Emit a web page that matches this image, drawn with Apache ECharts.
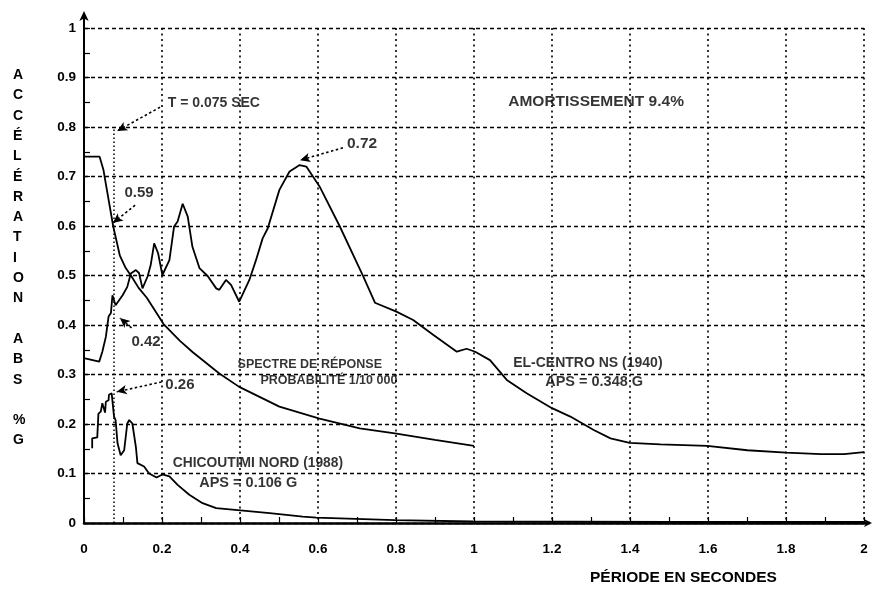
<!DOCTYPE html>
<html><head><meta charset="utf-8">
<script src="https://cdn.jsdelivr.net/npm/echarts@6/dist/echarts.min.js"></script>
<style>html,body{margin:0;padding:0;background:#fff}#c{width:878px;height:592px}</style>
</head><body><div id="c"></div><script>
// ---- data ----
const elCentroX = [0.0,0.039,0.047,0.056,0.063,0.069,0.073,0.081,0.099,0.111,0.12,0.133,0.141,0.15,0.163,0.171,0.18,0.19,0.201,0.219,0.231,0.24,0.253,0.266,0.278,0.296,0.317,0.339,0.347,0.364,0.377,0.398,0.424,0.441,0.458,0.471,0.501,0.527,0.553,0.57,0.604,0.656,0.716,0.746,0.801,0.844,0.896,0.956,0.981,1.003,1.041,1.084,1.135,1.2,1.247,1.307,1.35,1.399,1.478,1.598,1.701,1.8,1.89,1.949,2.0];
const elCentroY = [0.333,0.326,0.346,0.376,0.417,0.424,0.46,0.44,0.46,0.477,0.504,0.511,0.505,0.474,0.498,0.521,0.565,0.545,0.501,0.531,0.599,0.609,0.645,0.619,0.558,0.515,0.499,0.474,0.471,0.491,0.481,0.447,0.491,0.531,0.575,0.595,0.673,0.71,0.723,0.72,0.68,0.599,0.498,0.445,0.427,0.41,0.38,0.346,0.352,0.346,0.329,0.289,0.262,0.232,0.215,0.188,0.171,0.162,0.159,0.156,0.147,0.142,0.139,0.139,0.143];
const spectreX = [0.0,0.04,0.05,0.056,0.075,0.092,0.107,0.122,0.14,0.161,0.204,0.246,0.279,0.347,0.398,0.501,0.604,0.707,0.797,0.9,1.0];
const spectreY = [0.74,0.74,0.713,0.685,0.599,0.54,0.515,0.498,0.475,0.455,0.402,0.368,0.345,0.302,0.275,0.235,0.211,0.191,0.181,0.168,0.156];
const chicoutimiX = [0.021,0.021,0.034,0.037,0.043,0.047,0.054,0.056,0.063,0.064,0.071,0.077,0.081,0.086,0.094,0.103,0.111,0.116,0.124,0.133,0.137,0.154,0.167,0.186,0.201,0.219,0.24,0.27,0.304,0.339,0.394,0.476,0.561,0.596,0.797,0.998,1.5,2.0];
const chicoutimiY = [0.151,0.171,0.173,0.221,0.225,0.242,0.223,0.245,0.248,0.259,0.262,0.215,0.208,0.161,0.137,0.147,0.201,0.208,0.201,0.154,0.121,0.114,0.1,0.092,0.098,0.094,0.077,0.057,0.04,0.03,0.026,0.02,0.013,0.011,0.006,0.003,0.002,0.002];

const noteText = ['T = 0.075 SEC','AMORTISSEMENT 9.4%','0.72','0.59','0.42','0.26','SPECTRE DE RÉPONSE','PROBABILITÉ 1/10 000','EL-CENTRO NS (1940)','APS = 0.348 G','CHICOUTIMI NORD (1988)','APS = 0.106 G'];
const noteX = [0.333,1.313,0.713,0.141,0.159,0.246,0.579,0.628,1.292,1.308,0.446,0.421];
const noteY = [0.848,0.852,0.766,0.667,0.366,0.279,0.321,0.287,0.323,0.285,0.121,0.081];

// arrows: [fromX, fromY, toX, toY]
const arrows = [
  [0.195,0.840,0.085,0.792],
  [0.664,0.758,0.554,0.733],
  [0.131,0.642,0.074,0.606],
  [0.122,0.394,0.092,0.414],
  [0.199,0.285,0.084,0.265]
];
const periodT = 0.075, periodTop = 0.8;

const yLetters = 'A\nC\nC\nÉ\nL\nÉ\nR\nA\nT\nI\nO\nN\n\nA\nB\nS\n\n%\nG';
const xName = 'PÉRIODE EN SECONDES';

// ---- styles ----
const FONT = "'Liberation Sans', Arial, sans-serif";
const noteFontSize = [14, 15.5, 15.5, 15, 15, 15, 12.5, 12.5, 14, 14.5, 13.8, 14.5];

const zip = (a,b)=>a.map((v,i)=>[v,b[i]]);
const lineSeries = (name, xs, ys) => ({
  name, type:'line', data: zip(xs,ys), showSymbol:false, symbol:'none',
  lineStyle:{color:'#000', width:1.8}, animation:false, z:5
});

const chart = echarts.init(document.getElementById('c'), null, {renderer:'canvas'});
const option = {
  animation:false,
  backgroundColor:'#fff',
  grid:{left:84, right:14, top:28, bottom:69},
  xAxis:{
    type:'value', min:0, max:2, interval:0.2,
    axisLine:{show:true, onZero:false, lineStyle:{color:'#000', width:2.5}, symbol:['none','arrow'], symbolSize:[6,8], symbolOffset:[0,8]},
    axisTick:{show:true, inside:true, length:6, lineStyle:{color:'#000', width:1.2}},
    minorTick:{show:true, splitNumber:2, length:6, lineStyle:{color:'#000', width:1.2}},
    axisLabel:{color:'#000', fontFamily:FONT, fontWeight:'bold', fontSize:13.5, margin:19},
    splitLine:{show:true, lineStyle:{color:'#000', width:1.6, type:[2,3.5]}}
  },
  yAxis:{
    type:'value', min:0, max:1, interval:0.1,
    axisLine:{show:true, onZero:false, lineStyle:{color:'#000', width:2}, symbol:['none','arrow'], symbolSize:[7,10], symbolOffset:[0,17]},
    axisTick:{show:true, inside:true, length:6, lineStyle:{color:'#000', width:1.2}},
    minorTick:{show:true, splitNumber:2, length:6, lineStyle:{color:'#000', width:1.2}},
    axisLabel:{color:'#000', fontFamily:FONT, fontWeight:'bold', fontSize:13.5, margin:8},
    splitLine:{show:true, lineStyle:{color:'#000', width:1.4, type:[4,3]}}
  },
  series:[
    Object.assign(lineSeries('El-Centro', elCentroX, elCentroY), {
      markLine:{silent:true, symbol:['none','none'], label:{show:false},
        lineStyle:{color:'#000', width:1.5, type:[1.5,2.5]},
        data:[[{coord:[periodT,0]},{coord:[periodT,periodTop]}]]}
    }),
    lineSeries('Spectre', spectreX, spectreY),
    lineSeries('Chicoutimi', chicoutimiX, chicoutimiY),
    {
      name:'notes', type:'scatter', symbolSize:0, silent:true, z:6,
      itemStyle:{color:'#000'},
      data: noteText.map((t,i)=>({name:t, value:[noteX[i], noteY[i]],
        label:{fontSize:noteFontSize[i]}})),
      label:{show:true, position:'inside', formatter:p=>p.name, color:'#000',
        textBorderWidth:0, textBorderColor:'transparent',
        fontFamily:FONT, fontWeight:'bold', fontSize:13},
      markLine:{silent:true, symbol:['none','arrow'], symbolSize:[7,10], label:{show:false},
        lineStyle:{color:'#000', width:1.6, type:[2.5,2.5]},
        data: arrows.map(a=>[{coord:[a[0],a[1]]},{coord:[a[2],a[3]]}])}
    }
  ]
};
chart.setOption(option);

const p0 = chart.convertToPixel({gridIndex:0},[0,0]);
const p1 = chart.convertToPixel({gridIndex:0},[2,1]);
chart.setOption({graphic:[
  {type:'line', shape:{x1:p0[0], y1:p1[1], x2:p0[0], y2:p1[1]-15}, style:{stroke:'#000', lineWidth:2}},
  {type:'line', shape:{x1:p1[0], y1:p0[1], x2:p1[0]+6, y2:p0[1]}, style:{stroke:'#000', lineWidth:2.5}},
  {type:'text', left:13, top:65, style:{text:yLetters, fill:'#000', font:"bold 14px "+FONT, lineHeight:20.3, align:'center'}},
  {type:'text', left:590, top:570, style:{text:xName, fill:'#000', font:"bold 15.5px "+FONT}}
]});
</script></body></html>
